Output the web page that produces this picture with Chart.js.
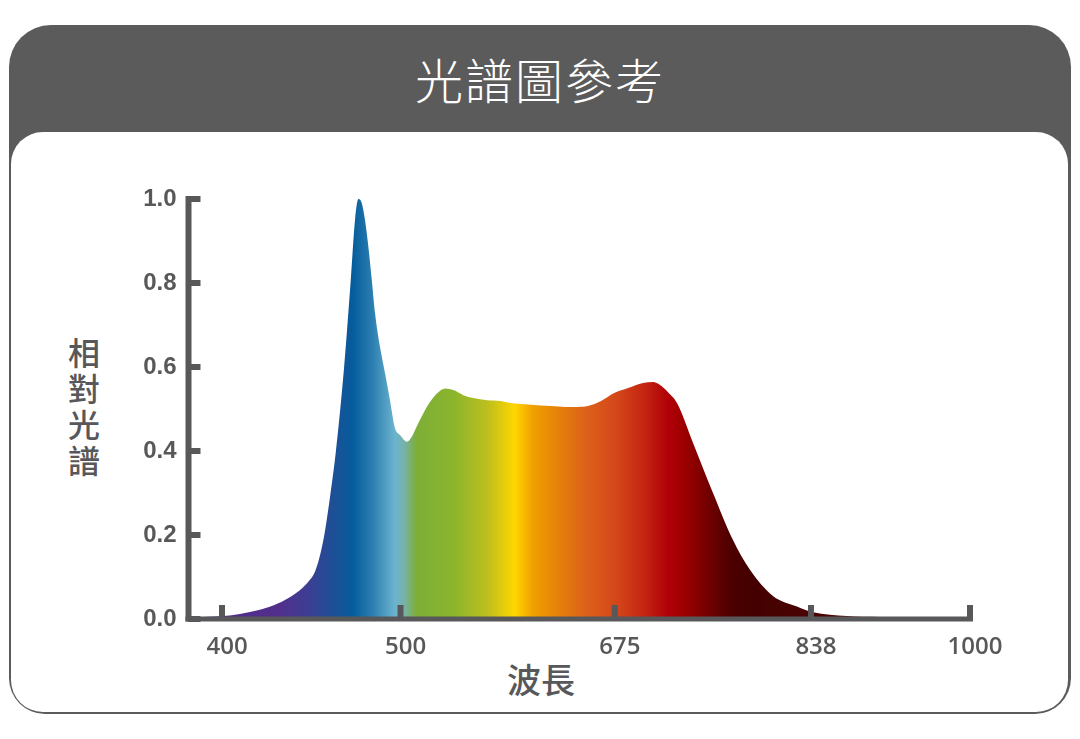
<!DOCTYPE html>
<html>
<head>
<meta charset="utf-8">
<script src="https://cdn.jsdelivr.net/npm/chart.js@4.4.0/dist/chart.umd.min.js"></script>
<style>
  html, body { margin: 0; padding: 0; background: #fff; overflow: hidden; }
  body { width: 1080px; height: 739px; position: relative; }
  #frame {
    position: absolute; left: 9px; top: 25px; width: 1062px; height: 689px;
    background: #5a5b5a; border-radius: 42px 42px 36px 36px;
  }
  #panel {
    position: absolute; left: 2px; top: 107px; right: 3px; bottom: 2px;
    background: #fff; border-radius: 32px;
  }
  #title {
    position: absolute; left: 0; top: 25px; width: 1080px; height: 107px;
    line-height: 107px; text-align: center; color: #fff;
    font-family: "Noto Sans CJK TC", "Noto Sans CJK SC", sans-serif;
    font-size: 48px; font-weight: 300; letter-spacing: 2px;
  }
  .axis-title {
    position: absolute; color: #58585a; text-align: center;
    font-family: "Noto Sans CJK TC", "Noto Sans CJK SC", sans-serif; font-weight: 500;
  }
  #ytitle { left: 64px; top: 333px; width: 40px; font-size: 32px; line-height: 36px; }
  #xtitle { left: 441px; top: 659px; width: 200px; font-size: 34px; line-height: 40px; }
  #spectrum { position: absolute; left: 0; top: 0; }
</style>
</head>
<body>
<div id="frame"><div id="panel"></div></div>
<div id="title">光譜圖參考</div>
<div id="ytitle" class="axis-title">相<br>對<br>光<br>譜</div>
<div id="xtitle" class="axis-title">波長</div>
<canvas id="spectrum" width="1080" height="739"></canvas>

<script>
// Wavelength (nm) and relative intensity
const wavelengths = [389, 401, 410, 420, 429, 438, 445, 449, 452, 454.5, 457.5, 460.8, 463.8, 468.4,
  472, 474.5, 476.4, 478.3, 480.1, 482, 483.9, 485.7, 488.5, 491.3, 494.1, 496.9, 499.7, 505.3,
  509.2, 513.3, 518.7, 524.2, 529.7, 536.5, 543.1, 551.3, 559.5, 570.8, 581.7, 589.9, 606.3,
  622.7, 635, 644.9, 653.1, 663.8, 674.5, 686, 698.4, 706.7, 712.6, 719.2, 726.7, 740, 756.6,
  773.2, 787.3, 806.4, 826.4, 840, 874.3, 908.3, 950, 1000];
const intensity = [0.005, 0.007, 0.012, 0.021, 0.033, 0.052, 0.074, 0.092, 0.112, 0.145, 0.205, 0.300,
  0.400, 0.600, 0.800, 0.950, 1.0, 0.990, 0.950, 0.886, 0.807, 0.729, 0.648, 0.586,
  0.521, 0.455, 0.438, 0.422, 0.434, 0.459, 0.490, 0.517, 0.537, 0.549, 0.545, 0.533, 0.526,
  0.521, 0.519, 0.514, 0.510, 0.507, 0.505, 0.505, 0.507, 0.519, 0.538, 0.550, 0.562, 0.564,
  0.557, 0.540, 0.514, 0.419, 0.300, 0.188, 0.117, 0.055, 0.030, 0.016, 0.007, 0.005, 0.004, 0.003];

// Tick labels
const xTicks = [400, 500, 675, 838, 1000];
const yTicks = [0, 0.2, 0.4, 0.6, 0.8, 1.0];

// The wavelength axis is not linear: where each break sits along the axis (0..1)
const axisBreaksNm = [381, 400, 500, 675, 838, 1000];
const axisBreaksPos = [0, 0.0429, 0.2713, 0.5455, 0.7965, 1];

// Spectrum colours along the wavelength axis
const colorStopsNm = [389, 431, 448, 462, 473, 484, 497, 503, 513, 543, 571, 593, 608, 628, 652,
  677, 700, 719, 734, 754, 772, 790, 1000];
const colorStops = ['#4c2c88', '#532f8c', '#3d3e93', '#1e4f96', '#055c9c', '#2a7db0', '#6cb4cf',
  '#76b2a8', '#7eae38', '#8ab52c', '#bdbf1e', '#ffd600', '#f0a000', '#e5820a', '#dc601a',
  '#d4461a', '#c42410', '#b00008', '#9a0000', '#700000', '#4c0000', '#440000', '#5c0a0a'];

const AXIS_COLOR = '#58585a';

function interp(v, xs, ys) {
  if (v <= xs[0]) return ys[0] + (v - xs[0]) * (ys[1] - ys[0]) / (xs[1] - xs[0]);
  for (let i = 1; i < xs.length; i++) {
    if (v <= xs[i]) return ys[i - 1] + (v - xs[i - 1]) * (ys[i] - ys[i - 1]) / (xs[i] - xs[i - 1]);
  }
  const n = xs.length - 1;
  return ys[n] + (v - xs[n]) * (ys[n] - ys[n - 1]) / (xs[n] - xs[n - 1]);
}

// Linear scale with piecewise mapping between the labelled wavelengths
class WarpScale extends Chart.LinearScale {
  getPixelForValue(value) {
    return this.getPixelForDecimal(interp(value, axisBreaksNm, axisBreaksPos));
  }
  getValueForPixel(pixel) {
    return interp(this.getDecimalForPixel(pixel), axisBreaksPos, axisBreaksNm);
  }
}
WarpScale.id = 'warp';
WarpScale.defaults = {};
Chart.register(WarpScale);

// Axis lines and inward tick marks, drawn over the fill
const axisMarks = {
  id: 'axisMarks',
  afterDatasetsDraw(chart) {
    const { ctx, chartArea: a, scales: { x, y } } = chart;
    ctx.save();
    ctx.strokeStyle = AXIS_COLOR;
    ctx.lineWidth = 6;
    ctx.beginPath();
    ctx.moveTo(a.left, a.top - 3);
    ctx.lineTo(a.left, a.bottom + 2.5);
    ctx.stroke();
    y.ticks.forEach((t, i) => {
      const py = y.getPixelForTick(i);
      ctx.beginPath();
      ctx.moveTo(a.left, py);
      ctx.lineTo(a.left + 12, py);
      ctx.stroke();
    });
    x.ticks.forEach((t, i) => {
      const px = x.getPixelForTick(i);
      ctx.beginPath();
      ctx.moveTo(px, a.bottom);
      ctx.lineTo(px, a.bottom - 14);
      ctx.stroke();
    });
    ctx.lineWidth = 5;
    ctx.beginPath();
    ctx.moveTo(a.left - 3, a.bottom);
    ctx.lineTo(a.right + 3, a.bottom);
    ctx.stroke();
    ctx.restore();
  }
};

function spectrumFill(context) {
  const chart = context.chart;
  const area = chart.chartArea;
  if (!area) return 'rgba(0,0,0,0)';
  const xs = chart.scales.x;
  const g = chart.ctx.createLinearGradient(area.left, 0, area.right, 0);
  colorStopsNm.forEach((nm, i) => {
    const f = (xs.getPixelForValue(nm) - area.left) / (area.right - area.left);
    g.addColorStop(Math.min(1, Math.max(0, f)), colorStops[i]);
  });
  return g;
}

new Chart(document.getElementById('spectrum'), {
  type: 'line',
  data: {
    datasets: [{
      data: wavelengths.map((w, i) => ({ x: w, y: intensity[i] })),
      fill: 'origin',
      backgroundColor: spectrumFill,
      borderColor: 'rgba(0,0,0,0)',
      borderWidth: 0,
      pointRadius: 0,
      cubicInterpolationMode: 'monotone'
    }]
  },
  options: {
    responsive: false,
    animation: false,
    devicePixelRatio: 1,
    layout: { padding: { left: 0, right: 110, top: 199, bottom: 0 } },
    plugins: { legend: { display: false }, tooltip: { enabled: false } },
    scales: {
      x: {
        type: 'warp',
        min: 381,
        max: 1000,
        grid: { display: false, drawTicks: false },
        border: { display: false },
        afterBuildTicks: s => { s.ticks = xTicks.map(v => ({ value: v })); },
        afterFit: s => { s.height = 120; },
        ticks: {
          autoSkip: false,
          maxRotation: 0,
          padding: 14,
          labelOffset: 5,
          color: AXIS_COLOR,
          font: { family: 'Open Sans', size: 24, weight: '600' },
          callback: v => String(v)
        }
      },
      y: {
        min: 0,
        max: 1,
        grid: { display: false, drawTicks: false },
        border: { display: false },
        afterBuildTicks: s => { s.ticks = yTicks.map(v => ({ value: v })); },
        afterFit: s => { s.width = 188.5; },
        ticks: {
          padding: 12,
          color: AXIS_COLOR,
          font: { family: 'Liberation Sans', size: 24, weight: 'bold' },
          callback: v => v.toFixed(1)
        }
      }
    }
  },
  plugins: [axisMarks]
});
</script>
</body>
</html>
